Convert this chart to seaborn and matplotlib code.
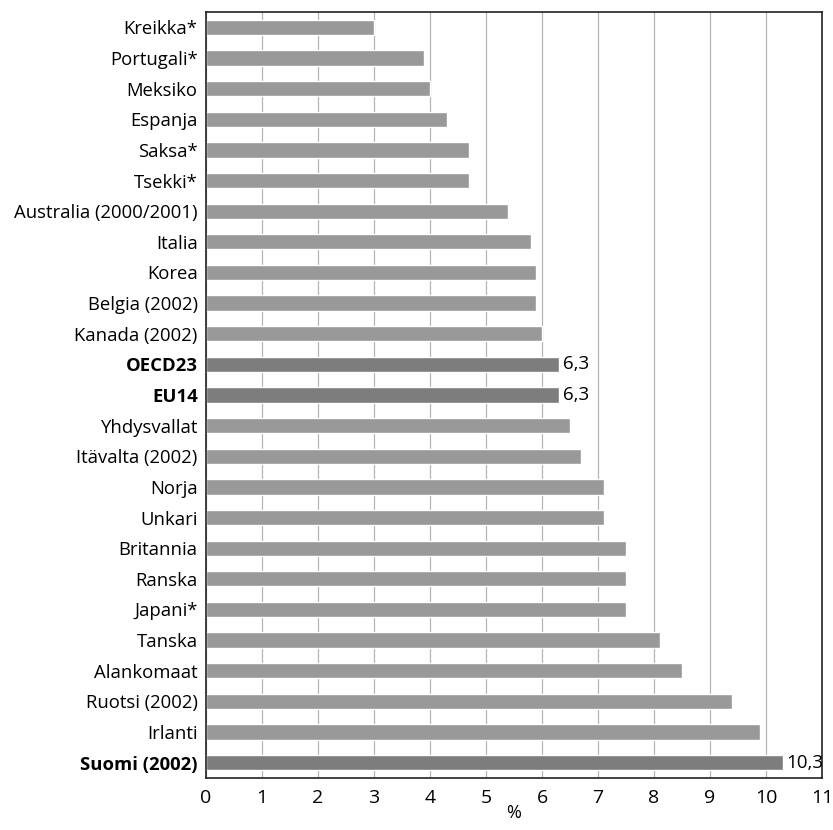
import matplotlib
matplotlib.use("Agg")
import matplotlib.pyplot as plt
import seaborn as sns
import pandas as pd

countries = [
    "Kreikka*", "Portugali*", "Meksiko", "Espanja", "Saksa*", "Tsekki*",
    "Australia (2000/2001)", "Italia", "Korea", "Belgia (2002)", "Kanada (2002)",
    "OECD23", "EU14", "Yhdysvallat", "Itävalta (2002)", "Norja", "Unkari",
    "Britannia", "Ranska", "Japani*", "Tanska", "Alankomaat", "Ruotsi (2002)",
    "Irlanti", "Suomi (2002)",
]
values = [
    3.0, 3.9, 4.0, 4.3, 4.7, 4.7,
    5.4, 5.8, 5.9, 5.9, 6.0,
    6.3, 6.3, 6.5, 6.7, 7.1, 7.1,
    7.5, 7.5, 7.5, 8.1, 8.5, 9.4,
    9.9, 10.3,
]
highlighted = ["OECD23", "EU14", "Suomi (2002)"]
ticks = list(range(0, 12))

df = pd.DataFrame({"maa": countries, "osuus": values})
df["ryhmä"] = ["korostus" if c in highlighted else "muu" for c in countries]

sns.set_style("white")
plt.rcParams["font.family"] = ["Open Sans", "DejaVu Sans"]
plt.rcParams["text.color"] = "black"
plt.rcParams["xtick.color"] = "black"
plt.rcParams["ytick.color"] = "black"
plt.rcParams["axes.labelcolor"] = "black"

fig = plt.figure(figsize=(8.33, 8.30), dpi=100)
ax = fig.add_axes([0.2473, 0.0627, 0.7395, 0.9228])

palette = {"muu": "#999999", "korostus": "#7d7d7d"}
sns.barplot(data=df, x="osuus", y="maa", hue="ryhmä", palette=palette,
            dodge=False, legend=False, width=0.5, orient="h", ax=ax,
            order=countries, saturation=1)

ax.set_xlim(0, 11)
ax.set_ylim(len(countries) - 0.5, -0.5)
ax.set_xticks(ticks)
ax.set_xticklabels([str(t) for t in ticks], fontsize=14)
ax.xaxis.grid(True, color="#b5b5b5", linewidth=0.9)
ax.set_axisbelow(True)
ax.tick_params(axis="x", length=0, pad=8, labelcolor="black")
ax.tick_params(axis="y", length=0, pad=6, labelcolor="black")
ax.set_ylabel("")
ax.set_xlabel("%", fontsize=13, labelpad=-2, color="black")

for lbl in ax.get_yticklabels():
    lbl.set_fontsize(13.3)
    if lbl.get_text() in highlighted:
        lbl.set_fontweight("bold")

for s in ax.spines.values():
    s.set_visible(True)
    s.set_color("#222222")
    s.set_linewidth(1.2)

for i, (c, v) in enumerate(zip(countries, values)):
    if c in highlighted:
        ax.text(v + 0.07, i, f"{v:.1f}".replace(".", ","), va="center",
                ha="left", fontsize=13.5, color="black")

fig.savefig("out.png", dpi=100)
